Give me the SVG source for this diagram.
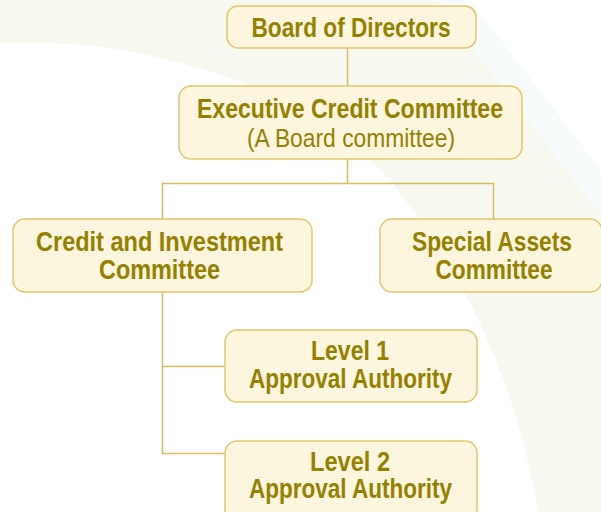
<svg xmlns="http://www.w3.org/2000/svg" width="601" height="512" viewBox="0 0 601 512">
<style>
.box{fill:#fcf6de;stroke:#dfc86c;stroke-width:1.5}
.t{font-family:"Liberation Sans",Arial,sans-serif;fill:#968000;text-anchor:middle;font-size:27px;font-weight:bold}
.r{font-weight:normal;font-size:25px}
.c{fill:none;stroke:#d6be5c;stroke-width:1.5}
</style>
<rect width="601" height="512" fill="#ffffff"/>
<g id="background">
<path d="M0,0 L436,0 L601,215 L601,512 L538,512 C520,400 470,270 380,170 C320,110 240,70 110,48 C60,42 20,42 0,43 Z" fill="#f7f8f0"/>
<path d="M436,0 L470,0 L601,170 L601,215 Z" fill="#f8fbfb"/>
</g>
<g id="connectors">
<path class="c" d="M347.5,48 V86"/>
<path class="c" d="M347.5,159 V183.5 M162.5,219 V183.5 H493.5 V219"/>
<path class="c" d="M162.5,292 V453.5 H225 M162.5,366.5 H225"/>
</g>
<g id="board">
<rect class="box" x="227" y="6" width="249" height="42" rx="11"/>
<text class="t" x="351" y="37" font-size="29" textLength="199" lengthAdjust="spacingAndGlyphs">Board of Directors</text>
</g>
<g id="executive">
<rect class="box" x="179" y="86" width="343" height="73" rx="12"/>
<text class="t" x="350" y="118" font-size="26" textLength="306" lengthAdjust="spacingAndGlyphs">Executive Credit Committee</text>
<text class="t r" x="351" y="147" textLength="208" lengthAdjust="spacingAndGlyphs">(A Board committee)</text>
</g>
<g id="credit">
<rect class="box" x="13" y="219" width="299" height="73" rx="12"/>
<text class="t" x="159.5" y="251" textLength="247" lengthAdjust="spacingAndGlyphs">Credit and Investment</text>
<text class="t" x="159.5" y="279" textLength="121" lengthAdjust="spacingAndGlyphs">Committee</text>
</g>
<g id="special">
<rect class="box" x="380" y="219" width="222" height="73" rx="12"/>
<text class="t" x="492" y="251" textLength="160" lengthAdjust="spacingAndGlyphs">Special Assets</text>
<text class="t" x="494" y="279" textLength="117" lengthAdjust="spacingAndGlyphs">Committee</text>
</g>
<g id="level1">
<rect class="box" x="225" y="330" width="252" height="72" rx="12"/>
<text class="t" x="350" y="360" textLength="78" lengthAdjust="spacingAndGlyphs">Level 1</text>
<text class="t" x="350.5" y="388" textLength="203" lengthAdjust="spacingAndGlyphs">Approval Authority</text>
</g>
<g id="level2">
<rect class="box" x="225" y="441" width="252" height="80" rx="12"/>
<text class="t" x="350" y="471" textLength="80" lengthAdjust="spacingAndGlyphs">Level 2</text>
<text class="t" x="350.5" y="498" textLength="203" lengthAdjust="spacingAndGlyphs">Approval Authority</text>
</g>
</svg>
